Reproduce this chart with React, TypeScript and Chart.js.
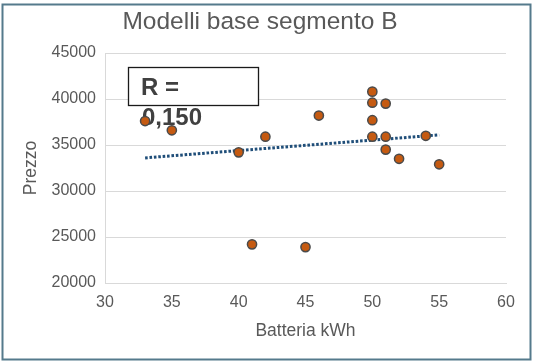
import React, { useEffect, useRef } from "react";
import { Chart, registerables } from "chart.js";

Chart.register(...registerables);

const chartTitle = "Modelli base segmento B";
const xAxisTitle = "Batteria kWh";
const yAxisTitle = "Prezzo";
const batteryKwh = [33, 35, 40, 41, 42, 45, 46, 50, 50, 50, 50, 51, 51, 51, 52, 54, 55];
const prices = [37600, 36600, 34200, 24200, 35900, 23900, 38200, 40800, 39600, 37700, 35900, 39500, 35900, 34500, 33500, 36000, 32900];
const trendX = [33, 55];
const trendY = [33600, 36100];
const rLabelLines = ["R =", "0,150"];
const xMin = 30, xMax = 60, xStep = 5;
const yMin = 20000, yMax = 45000, yStep = 5000;

const FONT = "'Liberation Sans', Arial, sans-serif";

export default function App() {
  const ref = useRef<HTMLCanvasElement | null>(null);
  useEffect(() => {
    document.body.style.margin = "0";
    const canvas = ref.current;
    if (!canvas) return;

    const decor = {
      id: "decor",
      beforeDatasetsDraw(chart: any) {
        const ctx = chart.ctx;
        ctx.save();
        ctx.fillStyle = "#ffffff";
        ctx.fillRect(128.5, 67.5, 130, 38);
        ctx.strokeStyle = "#1a1a1a";
        ctx.lineWidth = 1.3;
        ctx.strokeRect(128.5, 67.5, 130, 38);
        ctx.fillStyle = "#404040";
        ctx.font = `bold 24px ${FONT}`;
        ctx.textAlign = "left";
        ctx.textBaseline = "alphabetic";
        ctx.fillText(rLabelLines[0], 141, 95);
        ctx.fillText(rLabelLines[1], 142, 124.5);
        ctx.restore();
      },
      afterDraw(chart: any) {
        const ctx = chart.ctx;
        ctx.save();
        ctx.strokeStyle = "#557a8c";
        ctx.lineWidth = 2;
        ctx.strokeRect(2.5, 4.5, 528, 355);
        ctx.restore();
      },
    };

    const chart = new Chart(canvas, {
      type: "scatter",
      data: {
        datasets: [
          {
            type: "scatter",
            data: batteryKwh.map((x, i) => ({ x, y: prices[i] })),
            backgroundColor: "#C55A11",
            borderColor: "#4a4a4a",
            borderWidth: 1.5,
            pointRadius: 4.6,
            order: 1,
          } as any,
          {
            type: "line",
            data: trendX.map((x, i) => ({ x, y: trendY[i] })),
            borderColor: "#1F4E79",
            borderWidth: 3,
            borderDash: [2.6, 1.8],
            borderCapStyle: "butt",
            pointRadius: 0,
            showLine: true,
            fill: false,
            order: 2,
          } as any,
        ],
      },
      options: {
        animation: false,
        responsive: false,
        devicePixelRatio: 1,
        layout: { padding: { left: 14, right: 33, top: 0, bottom: 0 } },
        plugins: {
          legend: { display: false },
          tooltip: { enabled: false },
          title: {
            display: true,
            text: chartTitle,
            color: "#595959",
            font: { family: FONT, size: 24.5, weight: "normal" },
            padding: { top: 7.5, bottom: 16.1 },
          },
        },
        scales: {
          x: {
            type: "linear",
            min: xMin,
            max: xMax,
            ticks: {
              stepSize: xStep,
              color: "#595959",
              font: { family: FONT, size: 16 },
              padding: 10,
              callback: (v: any) => String(v),
            },
            grid: { display: false, drawTicks: false },
            border: { display: true, color: "#d9d9d9", width: 1 },
            title: {
              display: true,
              text: xAxisTitle,
              color: "#595959",
              font: { family: FONT, size: 17.5 },
              padding: { top: 0, bottom: 22 },
            },
            afterFit(scale: any) {
              scale.height = 81;
            },
          },
          y: {
            type: "linear",
            min: yMin,
            max: yMax,
            ticks: {
              stepSize: yStep,
              color: "#595959",
              font: { family: FONT, size: 16 },
              padding: 9,
              callback: (v: any) => String(v),
            },
            grid: { color: "#d9d9d9", drawTicks: false, lineWidth: 1 },
            border: { display: true, color: "#d9d9d9", width: 1 },
            title: {
              display: true,
              text: yAxisTitle,
              color: "#595959",
              font: { family: FONT, size: 17.5 },
              padding: { top: 7, bottom: 0 },
            },
            afterFit(scale: any) {
              scale.width = 91;
            },
          },
        },
      },
      plugins: [decor],
    } as any);
    return () => chart.destroy();
  }, []);
  return <canvas ref={ref} width={539} height={364} style={{ display: "block" }} />;
}
